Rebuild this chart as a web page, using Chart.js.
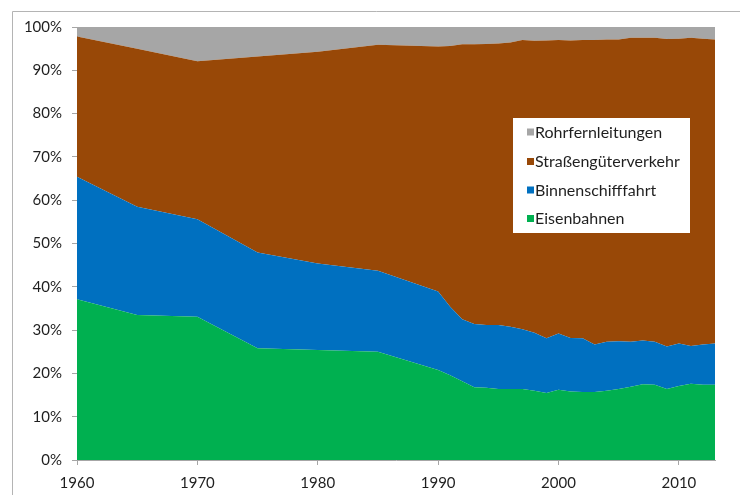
<!DOCTYPE html>
<html>
<head>
<meta charset="utf-8">
<script src="https://cdn.jsdelivr.net/npm/chart.js@4"></script>
<style>
  html, body { margin: 0; padding: 0; background: #ffffff; }
  #wrap { width: 740px; height: 495px; position: relative; }
</style>
</head>
<body>
<div id="wrap"><canvas id="c" width="740" height="495"></canvas></div>
<script>
// ---- data (shares in %) ----
const years = [1960, 1965, 1970, 1975, 1980, 1985, 1990, 1991, 1992, 1993, 1994, 1995, 1996, 1997, 1998, 1999, 2000, 2001, 2002, 2003, 2004, 2005, 2006, 2007, 2008, 2009, 2010, 2011, 2012, 2013];
const eisenbahnen = [37.1, 33.5, 33.1, 25.8, 25.4, 25.0, 20.8, 19.6, 18.2, 16.8, 16.7, 16.4, 16.4, 16.4, 16.0, 15.5, 16.2, 15.8, 15.7, 15.7, 16.0, 16.4, 16.9, 17.5, 17.4, 16.4, 17.1, 17.6, 17.4, 17.4];
const binnenschifffahrt = [28.3, 25.0, 22.5, 22.1, 20.0, 18.7, 18.1, 15.8, 14.3, 14.6, 14.5, 14.8, 14.4, 13.8, 13.4, 12.6, 13.0, 12.4, 12.4, 11.0, 11.3, 11.0, 10.4, 10.1, 9.9, 9.8, 9.8, 8.7, 9.3, 9.5];
const strassengueterverkehr = [32.4, 36.5, 36.5, 45.3, 48.9, 52.2, 56.6, 60.2, 63.5, 64.6, 64.9, 65.0, 65.6, 66.8, 67.4, 68.8, 67.8, 68.7, 68.9, 70.3, 69.8, 69.7, 70.2, 69.9, 70.2, 71.0, 70.4, 71.2, 70.6, 70.2];
const rohrfernleitungen = [2.2, 5.0, 7.9, 6.8, 5.7, 4.1, 4.5, 4.4, 4.0, 4.0, 3.9, 3.8, 3.6, 3.0, 3.2, 3.1, 3.0, 3.1, 3.0, 3.0, 2.9, 2.9, 2.5, 2.5, 2.5, 2.8, 2.7, 2.5, 2.7, 2.9];
const seriesLabels = ['Eisenbahnen', 'Binnenschifffahrt', 'Straßengüterverkehr', 'Rohrfernleitungen'];
const yTicks = [0, 10, 20, 30, 40, 50, 60, 70, 80, 90, 100];
const xTicks = [1960, 1970, 1980, 1990, 2000, 2010];

const colors = ['#00b050', '#0070c0', '#984807', '#a6a6a6'];
const seriesValues = [eisenbahnen, binnenschifffahrt, strassengueterverkehr, rohrfernleitungen];

const datasets = seriesValues.map((vals, i) => ({
  label: seriesLabels[i],
  data: years.map((y, k) => ({ x: y, y: vals[k] })),
  backgroundColor: colors[i],
  borderColor: colors[i],
  borderWidth: 0,
  pointRadius: 0,
  pointHoverRadius: 0,
  tension: 0,
  fill: i === 0 ? 'origin' : '-1'
}));

Chart.defaults.font.family = 'Lato, "Open Sans", sans-serif';
Chart.defaults.font.size = 15;
Chart.defaults.color = '#1f1f1f';

const framePlugin = {
  id: 'frame',
  beforeDraw(chart) {
    const ctx = chart.ctx;
    ctx.save();
    ctx.fillStyle = '#ffffff';
    ctx.fillRect(0, 0, chart.width, chart.height);
    ctx.strokeStyle = '#b4b4b4';
    ctx.lineWidth = 1;
    ctx.beginPath();
    ctx.moveTo(12.5, chart.height);
    ctx.lineTo(12.5, 11.5);
    ctx.lineTo(chart.width, 11.5);
    ctx.stroke();
    ctx.restore();
  }
};

const legendPlugin = {
  id: 'boxLegend',
  afterDraw(chart) {
    const ctx = chart.ctx;
    const ds = chart.data.datasets.slice().reverse();
    const x0 = 513, y0 = 118, w = 177, h = 115;
    ctx.save();
    ctx.fillStyle = '#ffffff';
    ctx.fillRect(x0, y0, w, h);
    ctx.font = '16px Lato, "Open Sans", sans-serif';
    ctx.textBaseline = 'middle';
    ctx.textAlign = 'left';
    const rows = [132, 161.5, 190, 218.5];
    ds.forEach((d, i) => {
      ctx.fillStyle = d.backgroundColor;
      ctx.fillRect(527, rows[i] - 3.5, 7, 7);
      ctx.fillStyle = '#1f1f1f';
      ctx.fillText(d.label, 535, rows[i] + 0.5);
    });
    ctx.restore();
  }
};

new Chart(document.getElementById('c'), {
  type: 'line',
  data: { datasets },
  plugins: [framePlugin, legendPlugin],
  options: {
    responsive: false,
    animation: false,
    events: [],
    layout: { padding: { top: 27, right: 25, bottom: 0, left: 0 } },
    plugins: { legend: { display: false }, tooltip: { enabled: false } },
    scales: {
      x: {
        type: 'linear',
        min: years[0],
        max: years[years.length - 1],
        afterBuildTicks(scale) { scale.ticks = xTicks.map(v => ({ value: v })); },
        afterFit(scale) { scale.height = 35; },
        ticks: { callback: v => String(v), padding: 9, maxRotation: 0, autoSkip: false, color: '#1f1f1f' },
        grid: { display: true, drawOnChartArea: false, drawTicks: true, tickLength: 5, color: '#a6a6a6' },
        border: { display: true, color: '#a6a6a6' }
      },
      y: {
        stacked: true,
        min: 0,
        max: 100,
        afterBuildTicks(scale) { scale.ticks = yTicks.map(v => ({ value: v })); },
        afterFit(scale) { scale.width = 77; },
        ticks: { callback: v => v + '%', padding: 10, color: '#1f1f1f' },
        grid: { display: true, drawOnChartArea: false, drawTicks: true, tickLength: 5, color: '#a6a6a6' },
        border: { display: true, color: '#a6a6a6' }
      }
    }
  }
});
</script>
</body>
</html>
